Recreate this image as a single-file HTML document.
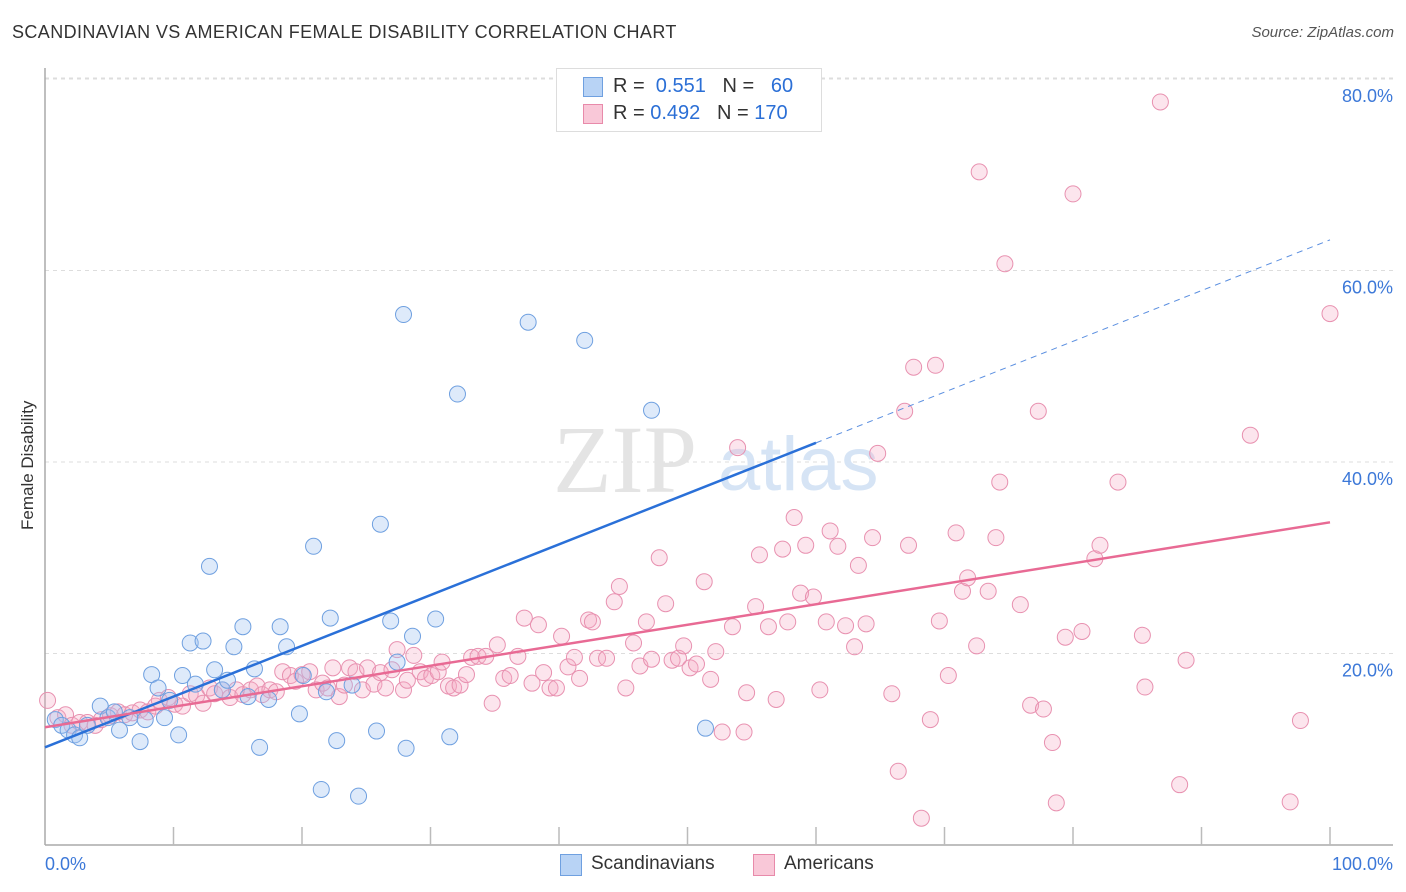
<!DOCTYPE html>
<html><head><meta charset="utf-8">
<style>
body{margin:0;background:#fff;font-family:"Liberation Sans",sans-serif;}
#wrap{position:relative;width:1406px;height:892px;overflow:hidden;}
.t{position:absolute;white-space:nowrap;}
</style></head>
<body>
<div id="wrap">
<div class="t" style="left:12px;top:22px;font-size:18px;letter-spacing:0.4px;color:#333;">SCANDINAVIAN VS AMERICAN FEMALE DISABILITY CORRELATION CHART</div>
<div class="t" style="right:12px;top:24px;font-size:15px;color:#555;font-style:italic;">Source: ZipAtlas.com</div>
<div class="t" style="left:8px;top:455px;font-size:17px;color:#333;transform:rotate(-90deg);transform-origin:0 0;"><span style="position:relative;left:-75px;top:10px">Female Disability</span></div>
<svg id="svg" width="1406" height="892" style="position:absolute;left:0;top:0"></svg>
<div style="position:absolute;left:556px;top:68px;width:264px;height:62px;border:1px solid #ddd;background:#fff;">
 <div style="position:absolute;left:26px;top:8px;width:18px;height:18px;background:#b8d3f5;border:1px solid #6fa0e0;"></div>
 <div class="t" style="left:56px;top:6px;font-size:20px;color:#333">R = <span style="color:#2b6fd6">&nbsp;0.551</span>&nbsp;&nbsp;&nbsp;N = <span style="color:#2b6fd6">&nbsp;&nbsp;60</span></div>
 <div style="position:absolute;left:26px;top:35px;width:18px;height:18px;background:#f9c8d8;border:1px solid #e88aaa;"></div>
 <div class="t" style="left:56px;top:33px;font-size:20px;color:#333">R = <span style="color:#2b6fd6">0.492</span>&nbsp;&nbsp;&nbsp;N = <span style="color:#2b6fd6">170</span></div>
</div>
<div style="position:absolute;left:560px;top:854px;width:20px;height:20px;background:#b8d3f5;border:1px solid #6fa0e0;"></div>
<div class="t" style="left:591px;top:853px;font-size:19px;color:#333">Scandinavians</div>
<div style="position:absolute;left:753px;top:854px;width:20px;height:20px;background:#f9c8d8;border:1px solid #e88aaa;"></div>
<div class="t" style="left:784px;top:853px;font-size:19px;color:#333">Americans</div>
</div>
<script>
const xTickLabels=["0.0%","100.0%"];
const yTicks=[20,40,60,80];
const yTickLabels=["20.0%","40.0%","60.0%","80.0%"];
const blueX=[0.8,1.3,1.8,2.3,2.7,3.3,4.3,4.9,5.4,5.8,6.6,7.4,7.8,8.3,8.8,9.3,9.7,10.4,10.7,11.3,11.7,12.3,12.8,13.2,13.8,14.2,14.7,15.4,15.8,16.3,16.7,17.4,18.3,18.8,19.8,20.1,20.9,21.5,21.9,22.2,22.7,23.9,24.4,25.8,26.1,26.9,27.4,27.9,28.1,28.6,30.4,31.5,32.1,37.6,42.0,47.2,51.4];
const blueY=[13.1,12.5,12.0,11.5,11.2,12.5,14.5,13.3,13.9,12.0,13.3,10.8,13.1,17.8,16.4,13.3,15.1,11.5,17.7,21.1,16.8,21.3,29.1,18.3,16.2,17.2,20.7,22.8,15.5,18.4,10.2,15.2,22.8,20.7,13.7,17.7,31.2,5.8,16.0,23.7,10.9,16.7,5.1,11.9,33.5,23.4,19.1,55.4,10.1,21.8,23.6,11.3,47.1,54.6,52.7,45.4,12.2];
const pinkX=[0.2,1.0,1.6,2.1,2.7,3.3,3.9,4.4,5.1,5.7,6.2,6.8,7.4,8.0,8.6,8.9,9.6,10.1,10.7,11.3,11.8,12.3,12.8,13.2,13.8,14.4,14.9,15.4,16.0,16.5,16.9,17.5,18.0,18.5,19.1,19.5,20.0,20.6,21.1,21.6,22.0,22.4,22.9,23.3,23.7,24.2,24.7,25.1,25.6,26.1,26.5,27.0,27.4,27.9,28.2,28.7,29.2,29.6,30.1,30.6,30.9,31.4,31.8,32.3,32.8,33.2,33.7,34.3,34.8,35.2,35.7,36.2,36.8,37.3,37.9,38.4,38.8,39.3,39.8,40.2,40.7,41.2,41.6,42.3,42.6,43.0,43.7,44.3,44.7,45.2,45.8,46.3,46.8,47.2,47.8,48.3,48.8,49.3,49.7,50.2,50.7,51.3,51.8,52.2,52.7,53.5,53.9,54.4,54.6,55.3,55.6,56.3,56.9,57.4,57.8,58.3,58.8,59.2,59.8,60.3,60.8,61.1,61.7,62.3,63.0,63.3,63.9,64.4,64.8,65.9,66.4,66.9,67.2,67.6,68.2,68.9,69.3,69.6,70.3,70.9,71.4,71.8,72.5,72.7,73.4,74.0,74.3,74.7,75.9,76.7,77.3,77.7,78.4,78.7,79.4,80.0,80.7,81.7,82.1,83.5,85.4,85.6,86.8,88.3,88.8,93.8,96.9,97.7,100.0];
const pinkY=[15.1,13.3,13.6,12.5,12.8,12.8,12.5,13.1,13.5,13.9,13.6,13.8,14.1,13.9,14.5,15.1,15.4,14.7,14.5,15.8,15.6,14.8,16.4,15.8,16.2,15.4,16.2,15.7,16.2,16.6,15.7,16.2,16.0,18.1,17.7,17.1,17.8,18.1,16.2,16.9,16.4,18.5,15.5,16.7,18.5,18.1,16.2,18.5,16.8,18.0,16.4,18.3,20.4,16.2,17.2,19.8,18.1,17.4,17.7,18.1,19.1,16.6,16.4,16.7,17.8,19.6,19.7,19.7,14.8,20.9,17.4,17.7,19.7,23.7,16.9,23.0,18.0,16.4,16.4,21.8,18.6,19.6,17.4,23.5,23.3,19.5,19.5,25.4,27.0,16.4,21.1,18.7,23.3,19.4,30.0,25.2,19.3,19.5,20.8,18.5,18.9,27.5,17.3,20.2,11.8,22.8,41.5,11.8,15.9,24.9,30.3,22.8,15.2,30.9,23.3,34.2,26.3,31.3,25.9,16.2,23.3,32.8,31.2,22.9,20.7,29.2,23.1,32.1,40.9,15.8,7.7,45.3,31.3,49.9,2.8,13.1,50.1,23.4,17.7,32.6,26.5,27.9,20.8,70.3,26.5,32.1,37.9,60.7,25.1,14.6,45.3,14.2,10.7,4.4,21.7,68.0,22.3,29.9,31.3,37.9,21.9,16.5,77.6,6.3,19.3,42.8,4.5,13.0,55.5];
const blueLine=[[0,10.2],[60,42.0],[100,63.2]];
const pinkLine=[[0,12.3],[100,33.7]];

const X0=45,X1=1330,YB=845,PPY=9.575;
const sx=v=>X0+(X1-X0)*v/100;
const sy=v=>YB-v*PPY;
const svg=document.getElementById('svg');
const NS='http://www.w3.org/2000/svg';
function mk(tag,at){const e=document.createElementNS(NS,tag);for(const k in at)e.setAttribute(k,at[k]);svg.appendChild(e);return e;}
yTicks.forEach((t,i)=>{
 const g=mk('line',{x1:X0,x2:1393,y1:sy(t),y2:sy(t),stroke:'#ddd','stroke-dasharray':'4,4'});
 
 
 const tx=mk('text',{x:1393,y:sy(t)+23,'text-anchor':'end','font-size':18,fill:'#3c78d8','font-family':'Liberation Sans'});
 tx.textContent=yTickLabels[i];
 
 
});
const tg=mk('line',{x1:X0,x2:1393,y1:78,y2:78,stroke:'#ddd','stroke-dasharray':'4,4'});


const ax=mk('line',{x1:X0,x2:1393,y1:YB,y2:YB,stroke:'#aaa','stroke-width':1.5});


const ay=mk('line',{x1:X0,x2:X0,y1:68,y2:YB,stroke:'#aaa','stroke-width':1.5});


for(let i=1;i<=10;i++){
 const tk=mk('line',{x1:sx(i*10),x2:sx(i*10),y1:YB,y2:YB-18,stroke:'#bbb','stroke-width':1.5});
 
 
}
const xl0=mk('text',{x:45,y:870,'font-size':18,fill:'#3c78d8','font-family':'Liberation Sans'});xl0.textContent=xTickLabels[0];


const xl1=mk('text',{x:1393,y:870,'text-anchor':'end','font-size':18,fill:'#3c78d8','font-family':'Liberation Sans'});xl1.textContent=xTickLabels[1];


const wm=mk('text',{x:553,y:492,'font-size':96,fill:'#e4e4e4','font-family':'Liberation Serif'});wm.textContent='ZIP';


const wm2=mk('text',{x:718,y:490,'font-size':76,fill:'#d6e4f5','font-family':'Liberation Sans'});wm2.textContent='atlas';


pinkX.forEach((x,i)=>{
 const c=mk('circle',{cx:sx(x),cy:sy(pinkY[i]),r:8,fill:'rgba(246,170,196,0.3)',stroke:'#e891b0','stroke-width':1});
 
 
});
blueX.forEach((x,i)=>{
 const c=mk('circle',{cx:sx(x),cy:sy(blueY[i]),r:8,fill:'rgba(160,196,240,0.35)',stroke:'#6fa0e0','stroke-width':1});
 
 
});
const bl=mk('line',{x1:sx(blueLine[0][0]),y1:sy(blueLine[0][1]),x2:sx(blueLine[1][0]),y2:sy(blueLine[1][1]),stroke:'#2a70d8','stroke-width':2.5});


const bd=mk('line',{x1:sx(blueLine[1][0]),y1:sy(blueLine[1][1]),x2:sx(blueLine[2][0]),y2:sy(blueLine[2][1]),stroke:'#5b8fe0','stroke-width':1,'stroke-dasharray':'6,5'});


const pl=mk('line',{x1:sx(pinkLine[0][0]),y1:sy(pinkLine[0][1]),x2:sx(pinkLine[1][0]),y2:sy(pinkLine[1][1]),stroke:'#e86a94','stroke-width':2.5});


</script>
</body></html>
